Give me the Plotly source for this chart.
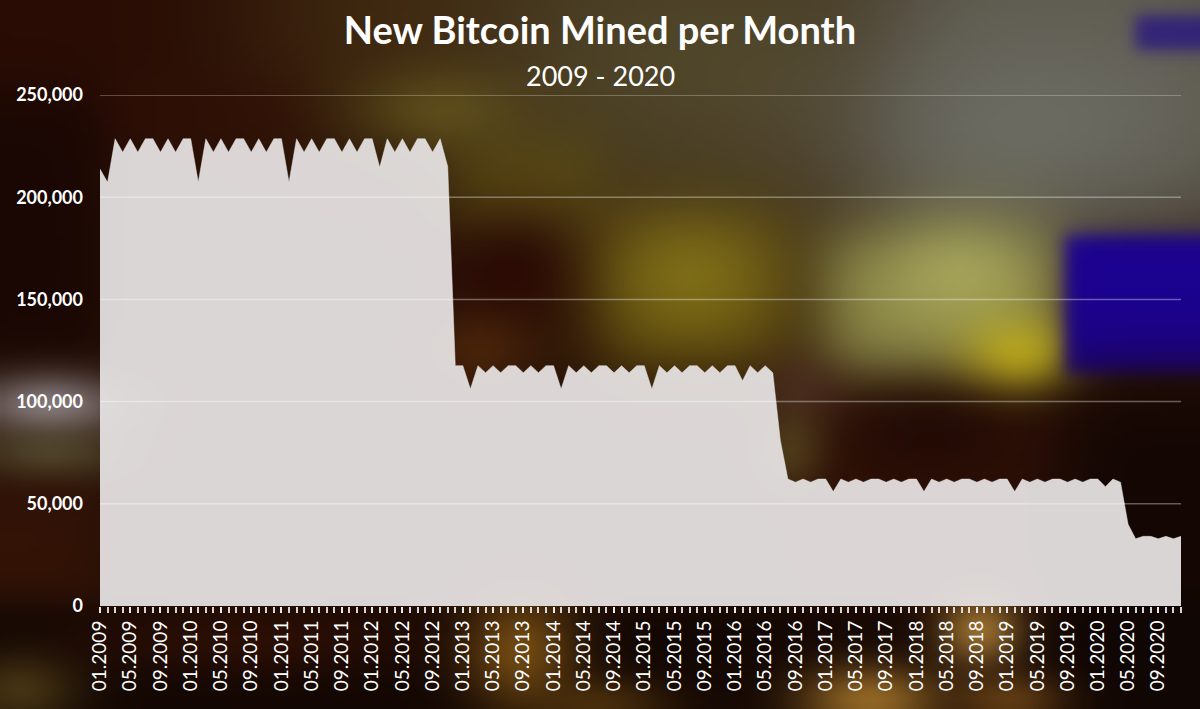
import numpy as np
import zlib
import struct
import base64
import plotly.graph_objects as go

# ---------------- data ----------------
month_labels = [f"{m:02d}.{y}" for y in range(2009, 2021) for m in range(1, 13)]

btc_mined = [
    # 2009
    213800, 207300, 228600, 222000, 228600, 222000, 228600, 228600, 222000, 228600, 222000, 228600,
    # 2010
    228600, 207300, 228600, 222000, 228600, 222000, 228600, 228600, 222000, 228600, 222000, 228600,
    # 2011
    228600, 207300, 228600, 222000, 228600, 222000, 228600, 228600, 222000, 228600, 222000, 228600,
    # 2012
    228600, 214600, 228600, 222000, 228600, 222000, 228600, 228600, 222000, 228600, 215000, 117600,
    # 2013
    117600, 106200, 117600, 114100, 117600, 114100, 117600, 117600, 114100, 117600, 114100, 117600,
    # 2014
    117600, 106200, 117600, 114100, 117600, 114100, 117600, 117600, 114100, 117600, 114100, 117600,
    # 2015
    117600, 106200, 117600, 114100, 117600, 114100, 117600, 117600, 114100, 117600, 114100, 117600,
    # 2016
    117600, 110200, 117600, 114100, 117600, 114100, 81000, 62100, 60600, 62100, 60600, 62100,
    # 2017
    62100, 56000, 62100, 60600, 62100, 60600, 62100, 62100, 60600, 62100, 60600, 62100,
    # 2018
    62100, 56000, 62100, 60600, 62100, 60600, 62100, 62100, 60600, 62100, 60600, 62100,
    # 2019
    62100, 56000, 62100, 60600, 62100, 60600, 62100, 62100, 60600, 62100, 60600, 62100,
    # 2020
    62100, 58400, 62100, 60600, 40000, 32900, 34100, 34100, 32900, 34100, 32900, 34100,
]

y_ticks = [0, 50000, 100000, 150000, 200000, 250000]
title_text = "New Bitcoin Mined per Month"
subtitle_text = "2009 - 2020"

x_idx = list(range(len(month_labels)))
label_step = 4

# ---------------- geometry ----------------
FW, FH = 1200, 709
L, R, T, B = 100, 19, 95, 103
PW, PH = FW - L - R, FH - T - B

# ---------------- blurred backdrop (decoration) ----------------
GW, GH = 240, 142
X, Y = np.meshgrid((np.arange(GW) + 0.5) * FW / GW, (np.arange(GH) + 0.5) * FH / GH)
img = np.zeros((GH, GW, 3)) + np.array([38, 16, 6], float)


def blob(cx, cy, sx, sy, col, a):
    w = a * np.exp(-(((X - cx) / sx) ** 2 + ((Y - cy) / sy) ** 2) / 2)
    img[:] = img * (1 - w[..., None]) + np.array(col, float) * w[..., None]


def sig(t, s):
    return 0.5 * (1 + np.tanh(t / s))


def rect(x0, x1, y0, y1, s, col, a):
    w = a * sig(X - x0, s) * sig(x1 - X, s) * sig(Y - y0, s) * sig(y1 - Y, s)
    img[:] = img * (1 - w[..., None]) + np.array(col, float) * w[..., None]


# top band
rect(-200, 260, -100, 140, 80, (42, 12, 4), 0.9)
rect(260, 520, -100, 120, 90, (75, 52, 20), 0.8)
rect(500, 900, -100, 210, 100, (92, 86, 52), 0.85)
rect(880, 1300, -100, 240, 70, (104, 104, 92), 0.9)
blob(1020, 130, 140, 70, (115, 117, 110), 0.6)
rect(1135, 1300, 15, 50, 9, (45, 28, 125), 0.9)
# right side
rect(820, 1060, 235, 385, 40, (160, 160, 85), 0.88)
blob(960, 270, 55, 40, (180, 180, 100), 0.6)
blob(1020, 360, 40, 30, (205, 188, 30), 0.9)
rect(1065, 1300, 235, 375, 10, (28, 2, 145), 1.0)
rect(800, 1300, 392, 800, 35, (48, 16, 6), 0.9)
rect(1060, 1300, 385, 800, 45, (14, 5, 3), 0.85)
blob(930, 430, 60, 35, (22, 6, 3), 0.5)
# middle
rect(450, 600, 140, 235, 35, (100, 85, 18), 0.75)
blob(520, 275, 60, 45, (40, 6, 3), 0.85)
rect(600, 790, 215, 365, 45, (125, 108, 20), 0.82)
blob(690, 275, 50, 40, (145, 128, 28), 0.5)
blob(480, 350, 40, 30, (88, 45, 12), 0.65)
blob(800, 390, 30, 25, (80, 45, 40), 0.55)
blob(790, 450, 25, 30, (105, 90, 40), 0.55)
# era-1 gap
rect(100, 310, 90, 140, 30, (50, 15, 5), 0.8)
blob(440, 110, 60, 30, (108, 94, 32), 0.65)
# left strip
rect(-100, 100, 95, 360, 30, (25, 6, 3), 0.9)
blob(50, 405, 55, 22, (155, 146, 150), 0.8)
blob(50, 455, 55, 20, (100, 95, 60), 0.65)
rect(-100, 100, 485, 600, 30, (55, 20, 6), 0.8)
# bottom band
rect(-100, 1300, 606, 800, 15, (16, 6, 3), 0.85)
blob(250, 640, 120, 25, (60, 20, 6), 0.6)
blob(520, 650, 40, 40, (150, 100, 25), 0.7)
blob(600, 705, 50, 20, (120, 80, 20), 0.5)
blob(870, 700, 50, 25, (175, 125, 45), 0.8)
blob(980, 630, 30, 25, (190, 140, 60), 0.75)
blob(1010, 700, 40, 20, (140, 90, 30), 0.6)
blob(20, 690, 40, 25, (100, 80, 30), 0.6)

arr = np.ascontiguousarray(np.clip(img, 0, 255).astype(np.uint8))


def to_png(a):
    h, w, _ = a.shape
    raw = b"".join(b"\x00" + a[i].tobytes() for i in range(h))

    def chunk(t, d):
        return struct.pack(">I", len(d)) + t + d + struct.pack(">I", zlib.crc32(t + d) & 0xFFFFFFFF)

    return (b"\x89PNG\r\n\x1a\n"
            + chunk(b"IHDR", struct.pack(">IIBBBBB", w, h, 8, 2, 0, 0, 0))
            + chunk(b"IDAT", zlib.compress(raw, 9))
            + chunk(b"IEND", b""))


bg_uri = "data:image/png;base64," + base64.b64encode(to_png(arr)).decode()

# ---------------- figure ----------------
fig = go.Figure()
fig.add_trace(go.Scatter(
    x=x_idx, y=btc_mined, mode="lines", fill="tozeroy",
    line=dict(color="rgba(232,229,229,0.93)", width=0.5),
    fillcolor="rgba(232,229,229,0.93)", hoverinfo="skip", showlegend=False,
))

for v in y_ticks[1:]:
    fig.add_shape(type="line", xref="paper", x0=0, x1=1, yref="y", y0=v, y1=v,
                  line=dict(color="rgba(255,255,255,0.35)", width=1.5), layer="above")

fig.add_layout_image(dict(
    source=bg_uri, xref="paper", yref="paper",
    x=-L / PW, y=1 + T / PH, sizex=FW / PW, sizey=FH / PH,
    xanchor="left", yanchor="top", sizing="stretch", layer="below",
))

fig.add_annotation(
    text=subtitle_text, xref="paper", yref="paper",
    x=(FW / 2 - L) / PW, y=1 + (T - 76) / PH, xanchor="center", yanchor="middle",
    showarrow=False, font=dict(family="Lato", size=27, color="white"),
)

fig.update_layout(
    width=FW, height=FH,
    margin=dict(l=L, r=R, t=T, b=B, pad=0),
    paper_bgcolor="#26100a", plot_bgcolor="rgba(0,0,0,0)",
    title=dict(text=f"<b>{title_text}</b>", x=0.5, xref="container", xanchor="center",
               y=1 - 31 / FH, yref="container", yanchor="middle",
               font=dict(family="Lato", size=38, color="white")),
    xaxis=dict(
        range=[0, len(month_labels) - 1], showgrid=False, zeroline=False, showline=False,
        tickmode="array", tickvals=x_idx[::label_step], ticktext=month_labels[::label_step],
        tickangle=-90, ticks="outside", ticklen=6, tickwidth=1.5, tickcolor="rgba(235,235,235,0.9)",
        tickfont=dict(family="Lato", size=19, color="white"),
        minor=dict(dtick=1, tick0=0, ticks="outside", ticklen=6, tickwidth=1.5,
                   tickcolor="rgba(235,235,235,0.9)", showgrid=False),
        fixedrange=True,
    ),
    yaxis=dict(
        range=[0, 250000], tickvals=y_ticks, tickformat=",d", showgrid=False,
        zeroline=False, showline=False, ticks="", ticklabelstandoff=16,
        tickfont=dict(family="Lato", size=18, color="white", weight="bold"),
        fixedrange=True,
    ),
)

fig.write_html("out.html")
